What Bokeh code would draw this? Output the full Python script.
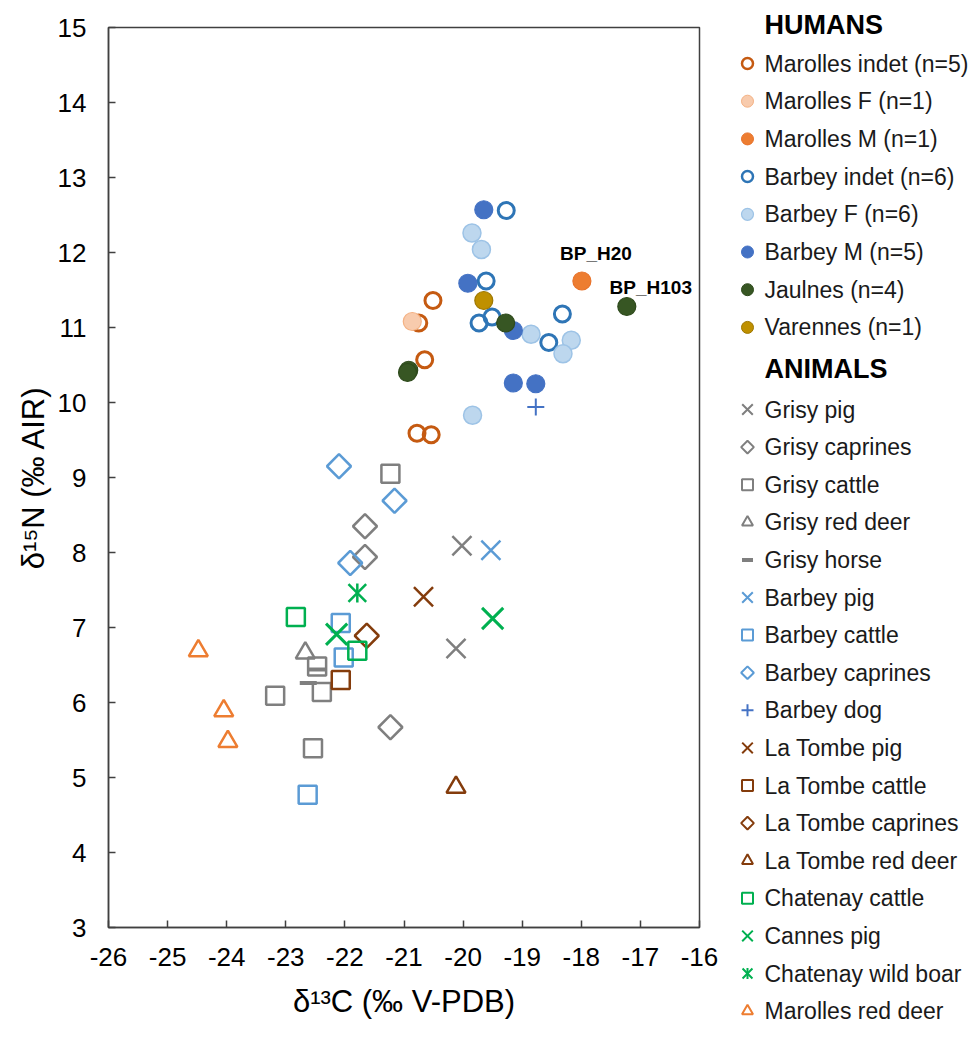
from bokeh.plotting import figure
from bokeh.layouts import row, column
from bokeh.models import Range1d, FixedTicker, Label
from bokeh.core.properties import value
from bokeh.embed import file_html
from bokeh.resources import INLINE
import math

# ---------------- data (d13C, d15N) ----------------
x_ticks = [-26, -25, -24, -23, -22, -21, -20, -19, -18, -17, -16]
x_tick_labels = ["-26", "-25", "-24", "-23", "-22", "-21", "-20", "-19", "-18", "-17", "-16"]
y_ticks = [3, 4, 5, 6, 7, 8, 9, 10, 11, 12, 13, 14, 15]

# Humans
marolles_indet_x = [-20.51, -20.75, -20.65, -20.78, -20.54]
marolles_indet_y = [11.36, 11.06, 10.57, 9.59, 9.57]
marolles_f_x = [-20.86]
marolles_f_y = [11.08]
marolles_m_x = [-17.99]
marolles_m_y = [11.62]
barbey_indet_x = [-19.27, -19.61, -19.51, -19.73, -18.55, -18.32]
barbey_indet_y = [12.56, 11.62, 11.14, 11.06, 10.80, 11.18]
barbey_f_x = [-19.85, -19.69, -18.85, -18.17, -18.31, -19.84]
barbey_f_y = [12.26, 12.04, 10.91, 10.83, 10.65, 9.83]
barbey_m_x = [-19.65, -19.92, -19.15, -19.15, -18.77]
barbey_m_y = [12.57, 11.59, 10.96, 10.26, 10.25]
jaulnes_x = [-17.23, -19.28, -20.92, -20.94]
jaulnes_y = [11.28, 11.06, 10.43, 10.40]
varennes_x = [-19.65]
varennes_y = [11.36]

# Animals
grisy_pig_x = [-20.02, -20.12]
grisy_pig_y = [8.09, 6.72]
grisy_caprines_x = [-21.66, -21.66, -21.23]
grisy_caprines_y = [8.35, 7.94, 5.67]
grisy_cattle_x = [-21.23, -22.47, -22.39, -23.18, -22.54]
grisy_cattle_y = [9.05, 6.48, 6.14, 6.09, 5.39]
grisy_red_deer_x = [-22.67]
grisy_red_deer_y = [6.66]
grisy_horse_x = [-22.47, -22.62]
grisy_horse_y = [6.44, 6.26]
barbey_pig_x = [-19.53]
barbey_pig_y = [8.03]
barbey_cattle_x = [-22.07, -22.02, -22.63]
barbey_cattle_y = [7.06, 6.60, 4.77]
barbey_caprines_x = [-22.10, -21.16, -21.91]
barbey_caprines_y = [9.15, 8.69, 7.86]
barbey_dog_x = [-18.77]
barbey_dog_y = [9.94]
la_tombe_pig_x = [-20.67]
la_tombe_pig_y = [7.41]
la_tombe_cattle_x = [-22.07]
la_tombe_cattle_y = [6.30]
la_tombe_caprines_x = [-21.63]
la_tombe_caprines_y = [6.89]
la_tombe_red_deer_x = [-20.12]
la_tombe_red_deer_y = [4.87]
chatenay_cattle_x = [-22.83, -21.79]
chatenay_cattle_y = [7.14, 6.69]
cannes_pig_x = [-22.14, -19.50]
cannes_pig_y = [6.91, 7.12]
chatenay_boar_x = [-21.79]
chatenay_boar_y = [7.46]
marolles_red_deer_x = [-24.48, -24.05, -23.98]
marolles_red_deer_y = [6.69, 5.89, 5.48]

annot_text = ["BP_H20", "BP_H103"]
annot_x = [-17.99, -17.23]
annot_y = [11.62, 11.28]

human_labels = ["Marolles indet (n=5)", "Marolles F (n=1)", "Marolles M (n=1)",
                "Barbey indet (n=6)", "Barbey F (n=6)", "Barbey M (n=5)",
                "Jaulnes (n=4)", "Varennes (n=1)"]
animal_labels = ["Grisy pig", "Grisy caprines", "Grisy cattle", "Grisy red deer", "Grisy horse",
                 "Barbey pig", "Barbey cattle", "Barbey caprines", "Barbey dog",
                 "La Tombe pig", "La Tombe cattle", "La Tombe caprines", "La Tombe red deer",
                 "Chatenay cattle", "Cannes pig", "Chatenay wild boar", "Marolles red deer"]

# ---------------- styles ----------------
FONT = "Liberation Sans"
AX = "#404040"
GRAY = "#7F7F7F"
BLUE = "#5B9BD5"
BROWN = "#843C0C"
GREEN = "#00B050"
ORANGE = "#ED7D31"
D45 = math.pi / 4

# (xs, ys, marker, size, line_color, line_width, fill_color, angle, legend_size, legend_lw, extra_vbar)
human_series = [
    (marolles_indet_x, marolles_indet_y, "circle", 16, "#C55A11", 3, None, 0, 11, 2.5, False),
    (marolles_f_x, marolles_f_y, "circle", 18, "#F4B183", 1.2, "#F8CBAD", 0, 12, 1, False),
    (marolles_m_x, marolles_m_y, "circle", 18, "#E8722A", 1.2, "#ED7D31", 0, 12, 1, False),
    (barbey_indet_x, barbey_indet_y, "circle", 16, "#2E75B6", 3, None, 0, 11, 2.5, False),
    (barbey_f_x, barbey_f_y, "circle", 18, "#9DC3E6", 1.5, "#BDD7EE", 0, 12, 1.2, False),
    (barbey_m_x, barbey_m_y, "circle", 18, "#4472C4", 1.2, "#4472C4", 0, 12, 1, False),
    (jaulnes_x, jaulnes_y, "circle", 18, "#2E4A1C", 1.2, "#375623", 0, 12, 1, False),
    (varennes_x, varennes_y, "circle", 18, "#9E7700", 1.2, "#BF9000", 0, 12, 1, False),
]
animal_series = [
    (grisy_pig_x, grisy_pig_y, "x", 27, GRAY, 2.5, None, 0, 15, 2, False),
    (grisy_caprines_x, grisy_caprines_y, "square", 17, GRAY, 2.5, None, D45, 9, 2, False),
    (grisy_cattle_x, grisy_cattle_y, "square", 18, GRAY, 2.5, None, 0, 11, 2, False),
    (grisy_red_deer_x, grisy_red_deer_y, "triangle", 19, GRAY, 2.5, None, 0, 11, 2, False),
    (grisy_horse_x, grisy_horse_y, "dash", 17, GRAY, 4, None, 0, 11, 4, False),
    (barbey_pig_x, barbey_pig_y, "x", 27, BLUE, 2.5, None, 0, 15, 2, False),
    (barbey_cattle_x, barbey_cattle_y, "square", 18, BLUE, 2.5, None, 0, 11, 2, False),
    (barbey_caprines_x, barbey_caprines_y, "square", 17, BLUE, 2.5, None, D45, 9, 2, False),
    (barbey_dog_x, barbey_dog_y, "cross", 17, "#4472C4", 2, None, 0, 12, 2, False),
    (la_tombe_pig_x, la_tombe_pig_y, "x", 27, BROWN, 2.5, None, 0, 15, 2, False),
    (la_tombe_cattle_x, la_tombe_cattle_y, "square", 18, BROWN, 2.5, None, 0, 11, 2, False),
    (la_tombe_caprines_x, la_tombe_caprines_y, "square", 17, BROWN, 2.5, None, D45, 9, 2, False),
    (la_tombe_red_deer_x, la_tombe_red_deer_y, "triangle", 19, BROWN, 2.5, None, 0, 11, 2, False),
    (chatenay_cattle_x, chatenay_cattle_y, "square", 18, GREEN, 2.5, None, 0, 11, 2, False),
    (cannes_pig_x, cannes_pig_y, "x", 30, GREEN, 3, None, 0, 15, 2, False),
    (chatenay_boar_x, chatenay_boar_y, "x", 25, GREEN, 2.5, None, 0, 14, 2, True),
    (marolles_red_deer_x, marolles_red_deer_y, "triangle", 19, ORANGE, 2.5, None, 0, 11, 2, False),
]

# ---------------- main figure ----------------
W_MAIN = 723
H = 1037
p = figure(width=W_MAIN, height=H,
           min_border_left=108, min_border_right=24, min_border_top=27, min_border_bottom=110,
           x_range=Range1d(-26, -16), y_range=Range1d(3, 15),
           output_backend="svg", toolbar_location=None)
p.grid.visible = False
p.outline_line_color = AX
p.outline_line_width = 1.5

for ax in (p.xaxis[0], p.yaxis[0]):
    ax.axis_line_color = AX
    ax.axis_line_width = 1.5
    ax.major_tick_line_color = AX
    ax.major_tick_line_width = 1.5
    ax.major_tick_in = 7
    ax.major_tick_out = 0
    ax.minor_tick_line_color = None
    ax.major_label_text_font = FONT
    ax.major_label_text_font_size = "26px"
    ax.major_label_text_color = "#000000"
    ax.axis_label_text_font = FONT
    ax.axis_label_text_font_size = "31px"
    ax.axis_label_text_font_style = "normal"
    ax.axis_label_text_color = "#000000"

p.xaxis[0].ticker = FixedTicker(ticks=x_ticks)
p.xaxis[0].major_label_overrides = {t: s for t, s in zip(x_ticks, x_tick_labels)}
p.xaxis[0].major_label_standoff = 20
p.xaxis[0].axis_label = "δ¹³C (‰ V-PDB)"
p.xaxis[0].axis_label_standoff = 15

p.yaxis[0].ticker = FixedTicker(ticks=y_ticks)
p.yaxis[0].major_label_standoff = 22
p.yaxis[0].axis_label = "δ¹⁵N (‰ AIR)"
p.yaxis[0].axis_label_standoff = 4


def draw(fig, xs, ys, marker, size, lc, lw, fc, angle, vbar, vsize, vlw):
    fig.scatter(xs, ys, marker=marker, size=size, line_color=lc, line_width=lw,
                fill_color=fc, fill_alpha=1.0 if fc else 0.0, angle=angle)
    if vbar:
        fig.scatter(xs, ys, marker="dash", size=vsize, line_color=lc, line_width=vlw,
                    angle=math.pi / 2)


for (xs, ys, mk, sz, lc, lw, fc, ang, lsz, llw, vb) in human_series + animal_series:
    draw(p, xs, ys, mk, sz, lc, lw, fc, ang, vb, 19, 2.5)

offs = [(14, 28), (24, 19)]
for t, x, y, (dx, dy) in zip(annot_text, annot_x, annot_y, offs):
    p.add_layout(Label(x=x, y=y, x_offset=dx, y_offset=dy, text=t, text_font=FONT,
                       text_font_size="19px", text_font_style="bold", text_color="#000000",
                       text_align="center", text_baseline="middle"))

# ---------------- legend figure ----------------
W_LEG = 974 - W_MAIN
leg = figure(width=W_LEG, height=H, x_range=Range1d(0, W_LEG), y_range=Range1d(H, 0),
             min_border=0, min_border_top=0, min_border_bottom=0,
             min_border_left=0, min_border_right=0,
             x_axis_location=None, y_axis_location=None,
             output_backend="svg", toolbar_location=None)
leg.grid.visible = False
leg.outline_line_color = None
leg.title.visible = False

aligned = True
if "frame_align" in leg.properties():
    leg.frame_align = False
    p.frame_align = False
    aligned = False

MARK_X = 747 - W_MAIN
TEXT_X = 764 - W_MAIN
HUM_HEAD_Y, HUM_Y0, HUM_STEP = 24, 63, 37.7
ANI_HEAD_Y, ANI_Y0, ANI_STEP = 368, 409, 37.6

leg.text(x=[TEXT_X, TEXT_X], y=[HUM_HEAD_Y, ANI_HEAD_Y], text=["HUMANS", "ANIMALS"],
         text_font=value(FONT), text_font_size="27px", text_font_style="bold",
         text_color="#000000", text_baseline="middle", text_align="left")

hy = [HUM_Y0 + i * HUM_STEP for i in range(len(human_labels))]
ay = [ANI_Y0 + i * ANI_STEP for i in range(len(animal_labels))]
leg.text(x=[TEXT_X] * (len(hy) + len(ay)), y=hy + ay, text=human_labels + animal_labels,
         text_font=value(FONT), text_font_size="23px", text_color="#1a1a1a",
         text_baseline="middle", text_align="left")

for (s, yy) in zip(human_series + animal_series, hy + ay):
    (xs, ys, mk, sz, lc, lw, fc, ang, lsz, llw, vb) = s
    draw(leg, [MARK_X], [yy], mk, lsz, lc, llw, fc, ang, vb, 11, 2)

if aligned:
    layout = row(column(p), column(leg))
else:
    layout = row(p, leg)
open("out.html", "w").write(file_html(layout, INLINE))
